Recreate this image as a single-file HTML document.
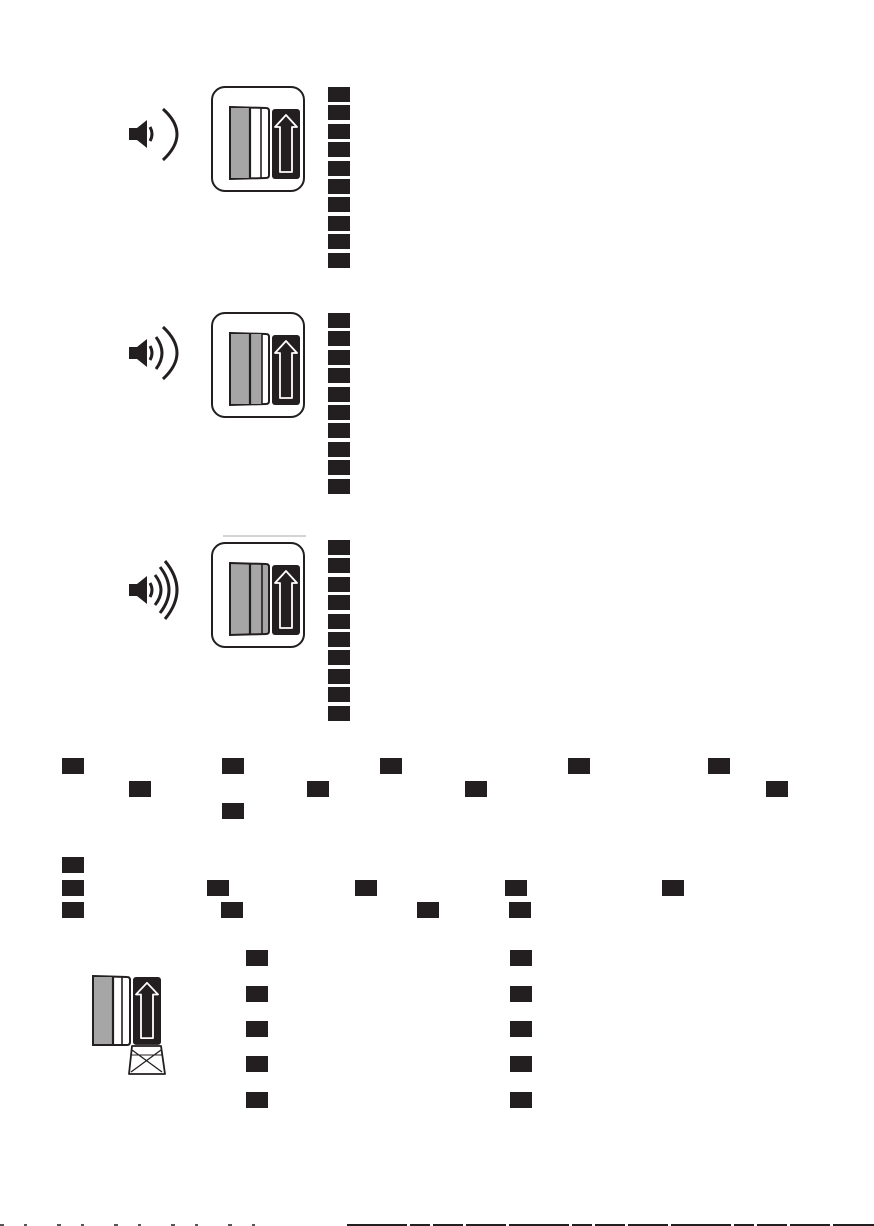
<!DOCTYPE html>
<html><head><meta charset="utf-8"><style>html,body{margin:0;padding:0;background:#fff}svg{display:block}</style></head>
<body>
<svg width="874" height="1226" viewBox="0 0 874 1226" xmlns="http://www.w3.org/2000/svg">
<defs>
<g id="arrow">
  <rect x="0" y="0" width="28" height="70" rx="3" fill="#231f20"/>
  <path d="M14 6 L25 18 L20 18 L20 63 L8 63 L8 18 L3 18 Z" fill="none" stroke="#fff" stroke-width="1.8" stroke-linejoin="round"/>
</g>
<rect id="frame" x="0" y="0" width="92" height="104" rx="13" fill="#fff" stroke="#231f20" stroke-width="2"/>
</defs>

<g transform="translate(212,87)">
  <use href="#frame"/>
  <path d="M18 20 L54 21 Q57 21 57 24 L57 88 Q57 91 54 91 L18 92 Z" fill="#fff" stroke="#231f20" stroke-width="2"/>
  <path d="M19 21 L38 21 L38 91 L19 91 Z" fill="#a6a6a6"/>
  <line x1="38" y1="20" x2="38" y2="92" stroke="#231f20" stroke-width="2.2"/>
  <line x1="49" y1="21" x2="49" y2="91" stroke="#231f20" stroke-width="1.6"/>
  <use href="#arrow" x="60" y="22"/>
</g>
<g fill="#231f20" stroke="#231f20">
  <path d="M129 128 L137 128 L147 120 L147 148 L137 140 L129 140 Z" stroke="none"/>
  <path d="M150 127 Q154 134 150 141" fill="none" stroke-width="3"/>
  <path d="M163 109 Q191 134 163 160" fill="none" stroke-width="3"/>
</g>

<g transform="translate(212,313)">
  <use href="#frame"/>
  <path d="M18 20 L54 21 Q57 21 57 24 L57 88 Q57 91 54 91 L18 92 Z" fill="#fff" stroke="#231f20" stroke-width="2"/>
  <path d="M19 21 L38 21 L38 91 L19 91 Z" fill="#a6a6a6"/>
  <path d="M38 21 L50 21 L50 91 L38 91 Z" fill="#a6a6a6"/>
  <line x1="38" y1="20" x2="38" y2="92" stroke="#231f20" stroke-width="2.2"/>
  <line x1="50" y1="21" x2="50" y2="91" stroke="#231f20" stroke-width="1.6"/>
  <use href="#arrow" x="60" y="22"/>
</g>
<g fill="#231f20" stroke="#231f20">
  <path d="M129 347 L137 347 L147 339 L147 367 L137 359 L129 359 Z" stroke="none"/>
  <path d="M150 346 Q154 353 150 360" fill="none" stroke-width="3"/>
  <path d="M156 337 Q168 353 156 369" fill="none" stroke-width="3"/>
  <path d="M163 327 Q191 353 163 379" fill="none" stroke-width="3"/>
</g>

<line x1="223" y1="536" x2="306" y2="536" stroke="#aaa" stroke-width="1"/>
<g transform="translate(212,543)">
  <use href="#frame"/>
  <path d="M18 20 L54 21 Q57 21 57 24 L57 88 Q57 91 54 91 L18 92 Z" fill="#a6a6a6" stroke="#231f20" stroke-width="2"/>
  <line x1="38" y1="20" x2="38" y2="92" stroke="#231f20" stroke-width="2.2"/>
  <line x1="50" y1="21" x2="50" y2="91" stroke="#231f20" stroke-width="1.6"/>
  <use href="#arrow" x="60" y="22"/>
</g>
<g fill="#231f20" stroke="#231f20">
  <path d="M129 584 L137 584 L147 576 L147 604 L137 596 L129 596 Z" stroke="none"/>
  <path d="M150 583 Q154 590 150 597" fill="none" stroke-width="3"/>
  <path d="M155 575 Q167 590 155 605" fill="none" stroke-width="3"/>
  <path d="M160 567 Q178 590 160 613" fill="none" stroke-width="3"/>
  <path d="M165 561 Q189 590 165 619" fill="none" stroke-width="3"/>
</g>

<g fill="#231f20">
  <rect x="328" y="87" width="22" height="15"/><rect x="328" y="105" width="22" height="15"/><rect x="328" y="124" width="22" height="15"/><rect x="328" y="142" width="22" height="15"/><rect x="328" y="161" width="22" height="15"/><rect x="328" y="179" width="22" height="15"/><rect x="328" y="197" width="22" height="15"/><rect x="328" y="216" width="22" height="15"/><rect x="328" y="234" width="22" height="15"/><rect x="328" y="253" width="22" height="15"/>

  <rect x="328" y="313" width="22" height="15"/><rect x="328" y="331" width="22" height="15"/><rect x="328" y="350" width="22" height="15"/><rect x="328" y="368" width="22" height="15"/><rect x="328" y="387" width="22" height="15"/><rect x="328" y="405" width="22" height="15"/><rect x="328" y="423" width="22" height="15"/><rect x="328" y="442" width="22" height="15"/><rect x="328" y="460" width="22" height="15"/><rect x="328" y="479" width="22" height="15"/>

  <rect x="328" y="540" width="22" height="15"/><rect x="328" y="558" width="22" height="15"/><rect x="328" y="577" width="22" height="15"/><rect x="328" y="595" width="22" height="15"/><rect x="328" y="614" width="22" height="15"/><rect x="328" y="632" width="22" height="15"/><rect x="328" y="650" width="22" height="15"/><rect x="328" y="669" width="22" height="15"/><rect x="328" y="687" width="22" height="15"/><rect x="328" y="706" width="22" height="15"/>

  <rect x="62" y="758" width="22" height="16"/><rect x="222" y="758" width="22" height="16"/><rect x="380" y="758" width="22" height="16"/><rect x="568" y="758" width="22" height="16"/><rect x="708" y="758" width="22" height="16"/>
  <rect x="129" y="781" width="22" height="16"/><rect x="307" y="781" width="22" height="16"/><rect x="465" y="781" width="22" height="16"/><rect x="766" y="781" width="22" height="16"/>
  <rect x="222" y="803" width="22" height="16"/>

  <rect x="62" y="857" width="22" height="16"/>
  <rect x="62" y="880" width="22" height="16"/><rect x="207" y="880" width="22" height="16"/><rect x="355" y="880" width="22" height="16"/><rect x="505" y="880" width="22" height="16"/><rect x="662" y="880" width="22" height="16"/>
  <rect x="62" y="902" width="22" height="16"/><rect x="221" y="902" width="22" height="16"/><rect x="417" y="902" width="22" height="16"/><rect x="509" y="902" width="22" height="16"/>

  <rect x="246" y="950" width="22" height="16"/><rect x="246" y="986" width="22" height="16"/><rect x="246" y="1021" width="22" height="16"/><rect x="246" y="1056" width="22" height="16"/><rect x="246" y="1092" width="22" height="16"/>
  <rect x="510" y="950" width="22" height="16"/><rect x="510" y="986" width="22" height="16"/><rect x="510" y="1021" width="22" height="16"/><rect x="510" y="1056" width="22" height="16"/><rect x="510" y="1092" width="22" height="16"/>
</g>

<g>
  <path d="M93 976 L127 977 Q130 977 130 980 L130 1042 Q130 1045 127 1045 L93 1045 Z" fill="#fff" stroke="#231f20" stroke-width="2"/>
  <rect x="94" y="977" width="18" height="67" fill="#a6a6a6"/>
  <line x1="113" y1="976" x2="113" y2="1045" stroke="#231f20" stroke-width="2.2"/>
  <line x1="122" y1="977" x2="122" y2="1044" stroke="#231f20" stroke-width="1.6"/>
  <use href="#arrow" x="133" y="977" transform="translate(133,977) scale(1,0.97) translate(-133,-977)"/>
  <path d="M132 1046 L161 1046 L165 1074 L129 1074 Z" fill="#fff" stroke="#231f20" stroke-width="1.8" stroke-linejoin="round"/>
  <line x1="132" y1="1050" x2="162" y2="1072" stroke="#231f20" stroke-width="1.3"/>
  <line x1="161" y1="1050" x2="131" y2="1072" stroke="#231f20" stroke-width="1.3"/>
  <line x1="131" y1="1055" x2="162" y2="1055" stroke="#231f20" stroke-width="1"/>
</g>

<line x1="347" y1="1225" x2="874" y2="1225" stroke="#231f20" stroke-width="2" stroke-dasharray="60 3 20 3 30 3 40 3"/>
<line x1="0" y1="1225" x2="280" y2="1225" stroke="#231f20" stroke-width="1.5" stroke-dasharray="4 20 3 30"/>
</svg>
</body></html>
